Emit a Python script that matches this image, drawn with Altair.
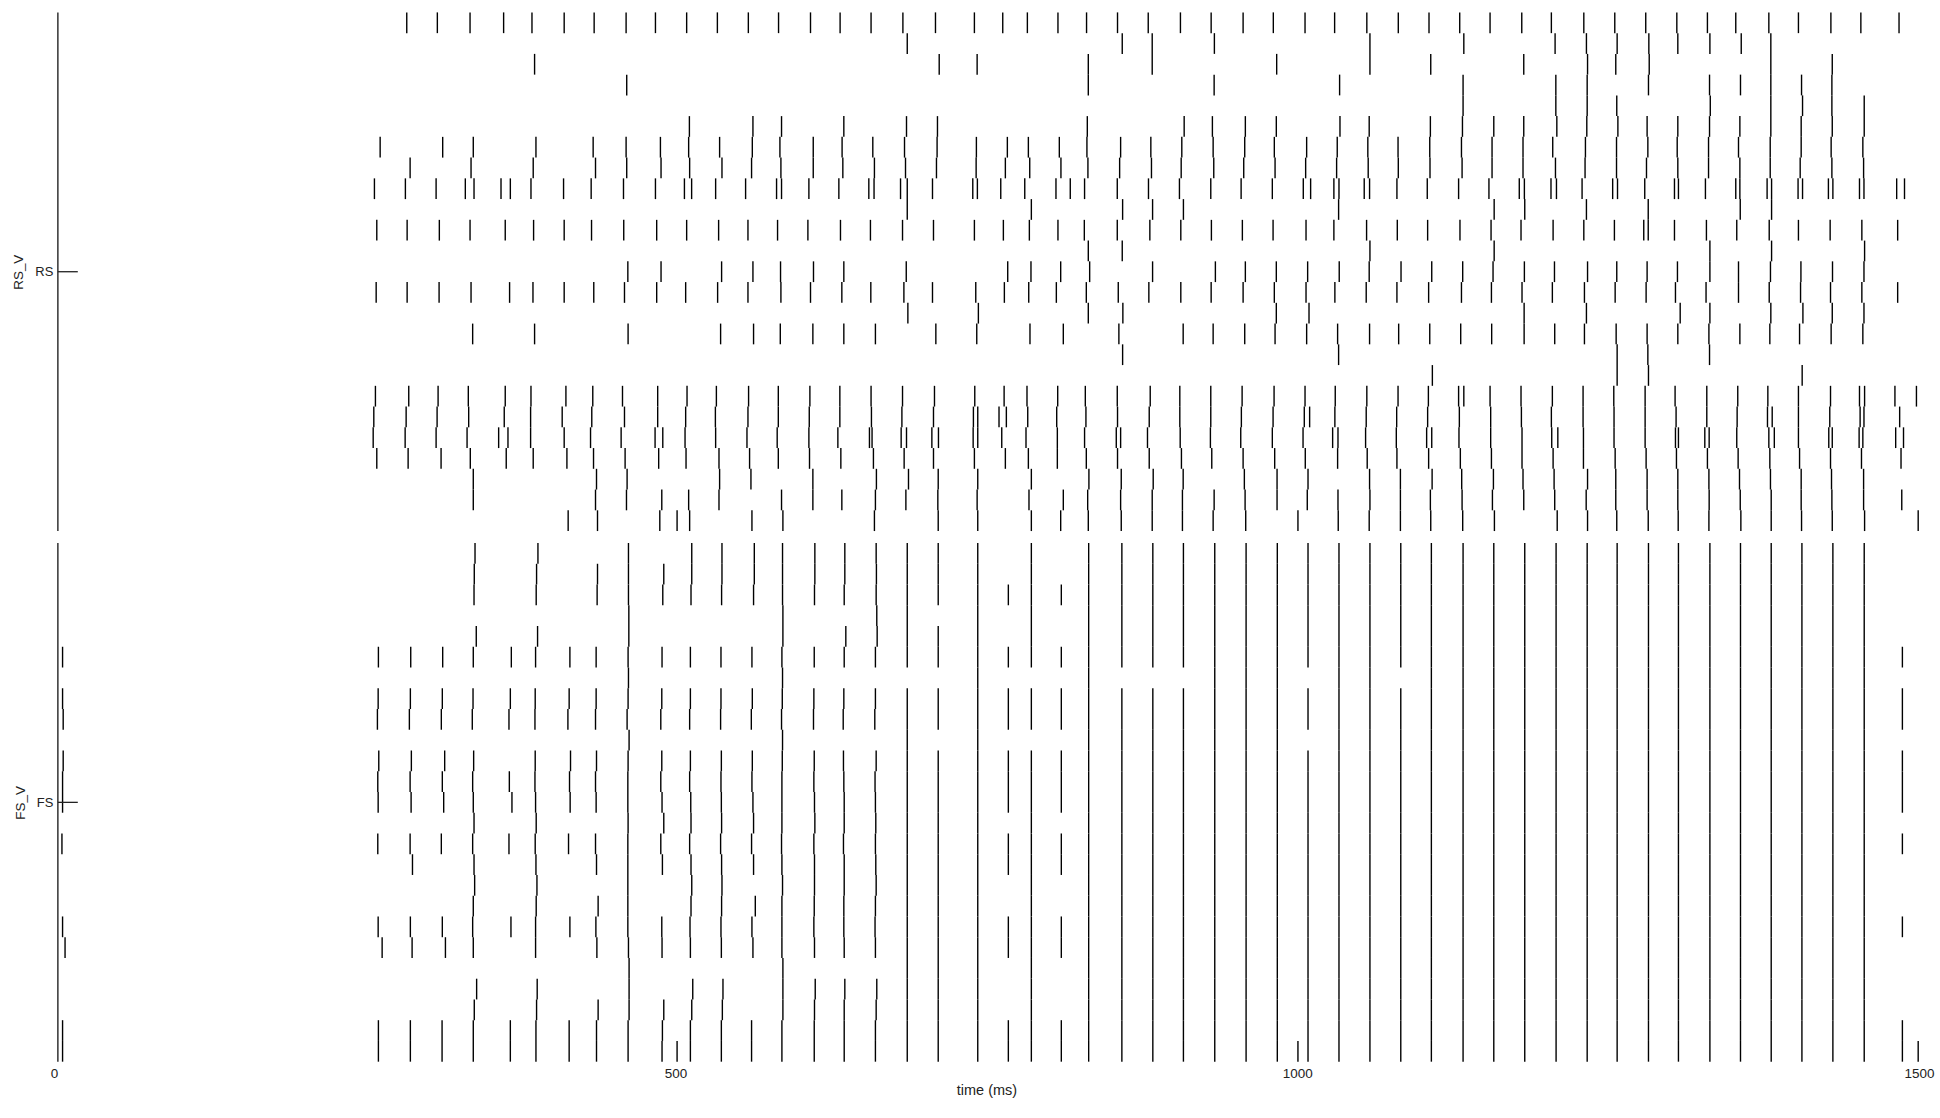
import altair as alt
import pandas as pd

# ---------------- RS population: spike times (ms) per neuron row (top row = 0)
rs_r00 = [283.8, 308.4, 334.7, 361.7, 384.5, 410.4, 434.5, 460.2, 483.8, 508.9, 533.6, 558.5, 582.8, 608.5, 632.3, 657.2, 682.8, 709, 740.3, 763.1, 782.9, 807.5, 830.5, 855.4, 880.1, 906, 930.7, 956.4, 980.7, 1006.2, 1030, 1055.9, 1081.2, 1105.9, 1130.6, 1155, 1180.5, 1204.3, 1230.4, 1255.3, 1280.2, 1305.2, 1329.8, 1352.6, 1379.2, 1403, 1429.1, 1453.2, 1483.9]
rs_r01 = [686.3, 859.2, 883.3, 933.3, 1058.4, 1133.9, 1207.3, 1232.5, 1257.2, 1282.7, 1306, 1331.8, 1357, 1380.8]
rs_r02 = [386.6, 712, 742.5, 831.9, 883.3, 983.4, 1058.4, 1107.3, 1182.1, 1233.4, 1256.1, 1283, 1380.8, 1430.2]
rs_r03 = [460.7, 831.9, 933.1, 1034, 1133.3, 1207.9, 1233.1, 1282.4, 1331.5, 1356.4, 1380.8, 1405.5, 1429.9]
rs_r04 = [1133.3, 1207.9, 1233.1, 1256.9, 1332.1, 1380.8, 1406.3, 1429.9, 1455.9]
rs_r05 = [511.1, 562.2, 585.2, 635.3, 685.7, 710.6, 831.1, 909, 931.7, 958.2, 983.1, 1034.3, 1057.8, 1107, 1132.8, 1158, 1182.1, 1208.7, 1232.8, 1257.8, 1281.3, 1306, 1331.5, 1355.9, 1380.8, 1405.2, 1430.2, 1455.9]
rs_r06 = [262.4, 312.7, 337.3, 387.7, 433.7, 460.2, 487.8, 510.5, 535.4, 561.7, 583.9, 610.7, 633.9, 658.6, 684.1, 710.3, 741.9, 766.8, 783.7, 808.6, 830.8, 857.9, 882.2, 907.1, 932.3, 957.7, 981.5, 1007.5, 1032.1, 1056.7, 1081, 1106.5, 1132, 1156.6, 1181.5, 1205.4, 1231.7, 1256.7, 1281.9, 1305.5, 1330.7, 1354.8, 1380.3, 1405.2, 1429.3, 1454.8]
rs_r07 = [286.5, 335.5, 385.5, 435.6, 460.7, 488.3, 511.3, 537.3, 561.1, 584.7, 610.7, 634.5, 659.9, 684.9, 709.8, 741.7, 765.2, 784.8, 809.9, 831.6, 857.1, 882.7, 906.6, 932.8, 956.9, 982.1, 1006.7, 1031.6, 1057, 1081.2, 1106.7, 1132.5, 1156.6, 1181.5, 1207.6, 1231.4, 1256.7, 1280.8, 1306, 1330.7, 1355.9, 1380.3, 1404.4, 1429.9, 1455.4]
rs_r08 = [257.8, 282.7, 307.4, 330.9, 337.9, 359.6, 367.1, 383.7, 409.9, 432.1, 458.1, 483.8, 507.1, 512.9, 532.2, 556.3, 581.2, 585.2, 607.2, 631.3, 655.4, 659.6, 680.9, 686.3, 706.6, 739, 742.7, 761.5, 780.8, 805.9, 817.4, 828.9, 855.2, 880.3, 905.2, 930.4, 954.8, 979.9, 1004.8, 1010.7, 1029.4, 1033.5, 1053.8, 1058.1, 1080.1, 1104.5, 1129.7, 1154.1, 1178.5, 1182.6, 1204, 1208.4, 1229, 1253.6, 1257.5, 1279.4, 1303.3, 1306.5, 1328.2, 1352.6, 1355.9, 1377.8, 1381.4, 1402.7, 1406.3, 1427.1, 1430.7, 1452.1, 1455.7, 1482, 1488.3]
rs_r09 = [686.3, 786.1, 859.5, 883.6, 908.4, 1033.2, 1158.3, 1182.9, 1232.5, 1282.2, 1356.2, 1381.4]
rs_r10 = [259.7, 284.1, 310, 334.7, 363, 385.8, 410.4, 432.4, 458.3, 484.8, 508.9, 534.6, 558.2, 582, 606.4, 632.6, 656.7, 682.5, 707.4, 740.3, 763.6, 784.5, 807.5, 828.7, 855.2, 881.4, 906.3, 930.9, 955.8, 980.5, 1007, 1029.4, 1055.7, 1080.4, 1104.8, 1130.8, 1155.8, 1179.9, 1205.7, 1230.4, 1255, 1278.6, 1282.2, 1303.3, 1329, 1353.4, 1379.5, 1403, 1428.5, 1454, 1482.8]
rs_r11 = [831.9, 859.2, 1058.4, 1158.3, 1331.8, 1381.4, 1456.2]
rs_r12 = [461.6, 488.3, 537, 562.2, 584.4, 610.9, 635.3, 685.5, 767.1, 785.8, 809.7, 833, 883.6, 934.1, 958.2, 983.1, 1008.3, 1033.7, 1057.8, 1083.4, 1108.1, 1133, 1157.4, 1182.6, 1206.8, 1233.4, 1256.9, 1281.3, 1305.7, 1331.8, 1354.8, 1380.5, 1405, 1430.4, 1455.7]
rs_r13 = [259.2, 284.1, 309.8, 335.5, 366.5, 385.3, 410.4, 434.2, 458.9, 484.8, 508.1, 533.8, 558.2, 584.7, 608.5, 633.7, 657, 683.6, 706.6, 741.4, 764.4, 784, 806.2, 830.3, 856, 880.6, 906.3, 930.7, 956.4, 981.5, 1007, 1030.2, 1055.4, 1080.1, 1105.6, 1132, 1156.1, 1180.7, 1205.1, 1230.9, 1255.6, 1280.5, 1304.1, 1328.7, 1354.8, 1379.5, 1404.7, 1428.8, 1454, 1482.8]
rs_r14 = [686.8, 743.5, 831.9, 859.7, 983.1, 1009.4, 1182.4, 1232.5, 1307.9, 1331.8, 1380.8, 1406.6, 1430.2, 1455.7]
rs_r15 = [336.8, 386.6, 461.8, 536.2, 562.7, 584.2, 610.4, 635.3, 660.7, 709.3, 742.2, 785, 811.8, 856.5, 908.2, 932.3, 957.7, 982.1, 1007.5, 1032.4, 1058.1, 1081.5, 1106.5, 1131.4, 1156.3, 1182.4, 1207, 1230.9, 1256.4, 1281.3, 1306, 1331, 1355.9, 1380, 1403.9, 1429.3, 1454.8]
rs_r16 = [859.5, 1033.2, 1257.2, 1281.9, 1331.5]
rs_r17 = [1108.6, 1257.2, 1282.4, 1406]
rs_r18 = [258.6, 285.4, 309, 333.3, 363, 383.7, 411.8, 433.4, 457.3, 485.6, 509.2, 532.8, 558.7, 582.6, 608, 632.1, 657.2, 682.5, 708.2, 740.6, 764.2, 782.6, 807.3, 829.5, 855.2, 881.7, 905.5, 930.4, 955.6, 981.3, 1006.2, 1030.5, 1055.9, 1081, 1105.4, 1129.7, 1133.9, 1155, 1179.9, 1205.1, 1229.8, 1254.5, 1279.7, 1303.8, 1329.3, 1354.2, 1378.4, 1403, 1428.8, 1452.1, 1456.2, 1480.6, 1497.9]
rs_r19 = [257.3, 283.3, 308.2, 333.6, 362.2, 383.4, 408.8, 432.6, 458.9, 485.6, 508.1, 532, 558.2, 582.6, 607.5, 632.1, 657.5, 682, 707.4, 739.5, 743, 760.1, 766, 783.2, 806.5, 830, 855.4, 880.9, 905.5, 930.4, 955, 980.5, 1005.6, 1009.9, 1030.2, 1055.4, 1079.9, 1104.8, 1130.3, 1155.5, 1180.2, 1204.3, 1229.8, 1254.7, 1279.7, 1304.6, 1329.3, 1353.7, 1378.1, 1381.9, 1403, 1428.2, 1452.6, 1455.7, 1484.4]
rs_r20 = [256.8, 282.5, 307.4, 332.3, 357.7, 365.2, 383.4, 410.4, 431.6, 456.2, 483.5, 489.7, 507.6, 532.2, 557.4, 581.7, 607.2, 630.5, 655.9, 658, 681.4, 685.7, 706.1, 711.4, 739.3, 743, 762.3, 781.8, 807, 828.9, 854.4, 857.9, 879.5, 905.8, 930.1, 954.5, 979.9, 1004.6, 1028.4, 1032.7, 1054.9, 1079.6, 1104, 1108.1, 1130, 1155.5, 1180.7, 1204.6, 1209.5, 1230.1, 1254.7, 1279.7, 1304.1, 1306.5, 1327.7, 1331.2, 1353.4, 1379.2, 1383.6, 1403, 1427.4, 1430.2, 1451.8, 1454.8, 1481.2, 1487.5]
rs_r21 = [259.7, 284.9, 311.4, 334.9, 363.8, 385.5, 412.6, 434, 459.4, 486.4, 508.4, 534.9, 559.5, 582.6, 607.7, 632.9, 659.1, 683.8, 707.4, 740.3, 765.2, 783.7, 807, 830.3, 855.4, 880.9, 906.8, 931.2, 956.4, 981.8, 1006.4, 1032.4, 1056.2, 1080.1, 1105.6, 1131.1, 1156.1, 1180.7, 1205.7, 1230.1, 1255.6, 1280.5, 1304.9, 1329.8, 1354.5, 1380, 1403.9, 1428.8, 1453.7, 1485.5]
rs_r22 = [337.3, 436.4, 461, 535.4, 560.6, 610.4, 661.5, 687.3, 711.2, 743, 786.1, 832.4, 858.4, 884.1, 908.2, 957.4, 983.7, 1008.6, 1058.1, 1082.9, 1108.4, 1132.2, 1157.7, 1181.5, 1206.5, 1233.4, 1256.1, 1281.3, 1306, 1331, 1355.6, 1380.5, 1405.2, 1429.6, 1455.4]
rs_r23 = [337.3, 435.6, 460.5, 488.9, 510.5, 534.9, 585.2, 610.4, 633.7, 660.7, 685.2, 710.9, 742.5, 784.2, 811.8, 831.4, 857.9, 883.3, 907.6, 933.1, 958, 983.7, 1008, 1032.7, 1058.4, 1082.9, 1107, 1132.5, 1156.9, 1182.1, 1207, 1232.3, 1256.1, 1281.3, 1306, 1331.2, 1356.2, 1381.1, 1405.2, 1429.9, 1455.4, 1486.1]
rs_r24 = [413.6, 437.2, 487.3, 501.2, 511.3, 561.4, 586.3, 659.9, 711.2, 743, 786.1, 809.7, 831.9, 858.4, 883.3, 907.6, 932.3, 958.5, 1000.5, 1032.9, 1057.8, 1082.9, 1107.3, 1133, 1158.5, 1209, 1233.4, 1256.9, 1282.2, 1306.3, 1331, 1356.7, 1381.1, 1405.5, 1430.2, 1456.2, 1499.3]

# ---------------- FS population: spikes before ~665 ms, per row
fs_r00 = [338.7, 389.3, 462.1, 513, 537.3, 563.3, 586, 612, 636.1, 661.3]
fs_r01 = [338.1, 388.2, 437.2, 462.1, 490.5, 513, 537.3, 563.3, 586, 612, 636.1, 661.5]
fs_r02 = [337.9, 387.9, 436.9, 462.1, 489.7, 512.4, 537, 562.7, 586, 611.7, 635.6, 661.3]
fs_r03 = [462.4, 586.3, 661.8]
fs_r04 = [339.7, 389, 462.4, 586.3, 636.9, 662.1]
fs_r05 = [7, 261, 287, 312.7, 337.3, 367.9, 387.4, 415, 436.1, 461.8, 489.1, 511.9, 536.5, 561.4, 585.5, 611.5, 635.6, 660.7]
fs_r06 = [462.1, 586]
fs_r07 = [7, 260.8, 286.7, 312.4, 337.1, 367.1, 387.1, 414.4, 436.1, 461.8, 488.9, 511.9, 536.5, 561.7, 585.8, 611.2, 635.3, 660.7]
fs_r08 = [7.5, 260.2, 285.9, 311.6, 336.5, 366, 386.9, 413.4, 435.6, 461, 488.1, 511.3, 536.2, 560.9, 585.2, 610.9, 634.8, 660.2]
fs_r09 = [462.6, 586]
fs_r10 = [7.5, 261.3, 287.5, 314.3, 337.6, 387.1, 415.5, 436.4, 461.8, 488.9, 511.9, 536.8, 561.7, 585.8, 611.5, 635, 661.3]
fs_r11 = [7, 260.5, 286.5, 312.4, 336.8, 366.3, 386.9, 414.7, 435.6, 461.6, 488.1, 511.3, 536.5, 561.4, 585.5, 611.2, 635.3, 660.4]
fs_r12 = [7, 260.8, 287.3, 313.5, 337.3, 368.4, 387.4, 415.2, 436.1, 461.6, 489.1, 512.2, 536.8, 562.2, 585.5, 611.7, 635.6, 660.7]
fs_r13 = [337.9, 387.9, 461.8, 490.5, 512.4, 537, 562.7, 585.5, 612, 635.6, 661]
fs_r14 = [6.5, 260.5, 286.5, 311.6, 336.8, 366, 387.1, 413.9, 435.6, 461.6, 488.1, 511.3, 536.2, 561.1, 585.2, 611.2, 635, 660.7]
fs_r15 = [288.4, 337.9, 387.7, 436.4, 461.6, 489.4, 512.4, 537, 562.7, 585.5, 611.7, 635.6, 661]
fs_r16 = [338.4, 388.5, 461.6, 513, 537.3, 586, 611.7, 635.6, 661.3]
fs_r17 = [337.3, 387.9, 437.7, 461.6, 512.4, 537, 564.1, 585.5, 611.5, 635.3, 660.7]
fs_r18 = [7, 260.8, 286.7, 312.4, 336.8, 367.6, 387.4, 415, 435.9, 461.6, 488.9, 511.6, 536.5, 561.4, 585.5, 611.2, 635.3, 660.4]
fs_r19 = [9, 264, 288.1, 314.9, 337.3, 387.4, 436.7, 462.1, 489.1, 511.9, 536.8, 562.2, 585.5, 611.7, 635.6, 660.7]
fs_r20 = [462.6, 586.3]
fs_r21 = [340, 388.7, 462.6, 513.8, 538.1, 586.3, 612.3, 636.1, 661.8]
fs_r22 = [338.1, 388.2, 437.7, 462.6, 490.5, 513, 537.6, 586.3, 611.7, 635.6, 661.3]
fs_r23 = [7, 261, 286.7, 312.2, 337.3, 367.1, 387.7, 414.4, 436.4, 461.8, 489.4, 511.9, 536.8, 561.1, 585.5, 611.5, 635.6, 660.7]
fs_r24 = [7, 261, 286.7, 312.2, 337.3, 367.1, 387.7, 414.4, 436.4, 461.8, 489.1, 501.2, 511.9, 536.8, 561.1, 585.5, 611.5, 635.6, 660.7]

# FS synchronous volleys after ~680 ms: volley time and the rows that fire in it
fs_volley_t = [686.3, 711.2, 743, 767.6, 786.1, 810.2, 832.2, 858.9, 883.8, 908.4, 933.6, 958.8,
               983.9, 1000.5, 1008.6, 1033.5, 1058.4, 1083.2, 1107.8, 1133.3, 1158, 1182.9, 1208.1,
               1233.1, 1257.2, 1282.4, 1306.5, 1331.8, 1356.4, 1381.1, 1405.8, 1430.7, 1455.9,
               1486.6, 1499.3]
ALL = list(range(25))
sub = [2, 5, 7, 8, 10, 11, 12, 14, 15, 18, 19, 23, 24]
fs_volley_rows = [
    [r for r in ALL if r != 6],
    [r for r in ALL if r not in (3, 6, 9)],
    ALL, sub,
    [r for r in ALL if r not in (6, 9)],
    sub, ALL,
    [r for r in ALL if r != 6],
    [r for r in ALL if r != 6],
    [r for r in ALL if r != 6],
    ALL, ALL, ALL,
    [24],
    [r for r in ALL if r not in (6, 9)],
    ALL, ALL,
    [r for r in ALL if r != 6],
    ALL, ALL, ALL, ALL, ALL, ALL, ALL, ALL, ALL, ALL, ALL, ALL, ALL, ALL, ALL,
    [5, 7, 8, 10, 11, 12, 14, 18, 23, 24],
    [24],
]

rs_rows = [rs_r00, rs_r01, rs_r02, rs_r03, rs_r04, rs_r05, rs_r06, rs_r07, rs_r08, rs_r09,
           rs_r10, rs_r11, rs_r12, rs_r13, rs_r14, rs_r15, rs_r16, rs_r17, rs_r18, rs_r19,
           rs_r20, rs_r21, rs_r22, rs_r23, rs_r24]
fs_rows = [fs_r00, fs_r01, fs_r02, fs_r03, fs_r04, fs_r05, fs_r06, fs_r07, fs_r08, fs_r09,
           fs_r10, fs_r11, fs_r12, fs_r13, fs_r14, fs_r15, fs_r16, fs_r17, fs_r18, fs_r19,
           fs_r20, fs_r21, fs_r22, fs_r23, fs_r24]

rs_recs = [{"t": t, "r0": i, "r1": i + 1} for i, row in enumerate(rs_rows) for t in row]
fs_recs = [{"t": t, "r0": i, "r1": i + 1} for i, row in enumerate(fs_rows) for t in row]
for vt, vrows in zip(fs_volley_t, fs_volley_rows):
    for i in vrows:
        fs_recs.append({"t": vt, "r0": i, "r1": i + 1})

rs_df = pd.DataFrame(rs_recs)
fs_df = pd.DataFrame(fs_recs)

x_tick_values = [0, 500, 1000, 1500]

W = 1870
H = 520
FONT = "Liberation Sans"
one = pd.DataFrame({"a": [0]})


def panel(df, lab, title, bottom):
    xax = alt.Axis(values=x_tick_values, format="d", domain=False, ticks=False, tickSize=0,
                   grid=False, labelPadding=5, labelFlush=False, labelOverlap=False,
                   title="time (ms)", titlePadding=3,
                   labelFontSize=13.5, titleFontSize=14.5) if bottom else None
    yax = alt.Axis(values=[12.5], labelExpr=f"'{lab}'", domain=False, ticks=False, tickSize=0,
                   grid=False, labelPadding=1, title=title, titlePadding=9,
                   labelFontSize=13, titleFontSize=13.5)
    spikes = alt.Chart(df).mark_rule(color="#000", strokeWidth=1.4).encode(
        x=alt.X("t:Q", scale=alt.Scale(domain=[0, 1500], nice=False, zero=False), axis=xax),
        y=alt.Y("r0:Q", scale=alt.Scale(domain=[0, 25], reverse=True, nice=False, zero=False), axis=yax),
        y2="r1:Q",
    )
    axis_line = alt.Chart(one).mark_rule(color="#4a4a4a", strokeWidth=1.7).encode(
        x=alt.value(4), y=alt.value(0), y2=alt.value(H))
    tick = alt.Chart(one).mark_rule(color="#222", strokeWidth=1.3).encode(
        x=alt.value(4), x2=alt.value(24), y=alt.value(H / 2))
    return alt.layer(axis_line, spikes, tick).properties(width=W, height=H)


chart = alt.vconcat(
    panel(rs_df, "RS", "RS_V", False),
    panel(fs_df, "FS", "FS_V", True),
    spacing=10,
).properties(
    padding={"left": 11, "top": 10, "right": 5, "bottom": 5},
    background="white",
).configure_view(stroke=None).configure_axis(
    labelFont=FONT, titleFont=FONT, labelColor="#222", titleColor="#222",
    titleFontWeight="normal",
)

chart.save("out.html", embed_options={"renderer": "svg", "actions": False})
